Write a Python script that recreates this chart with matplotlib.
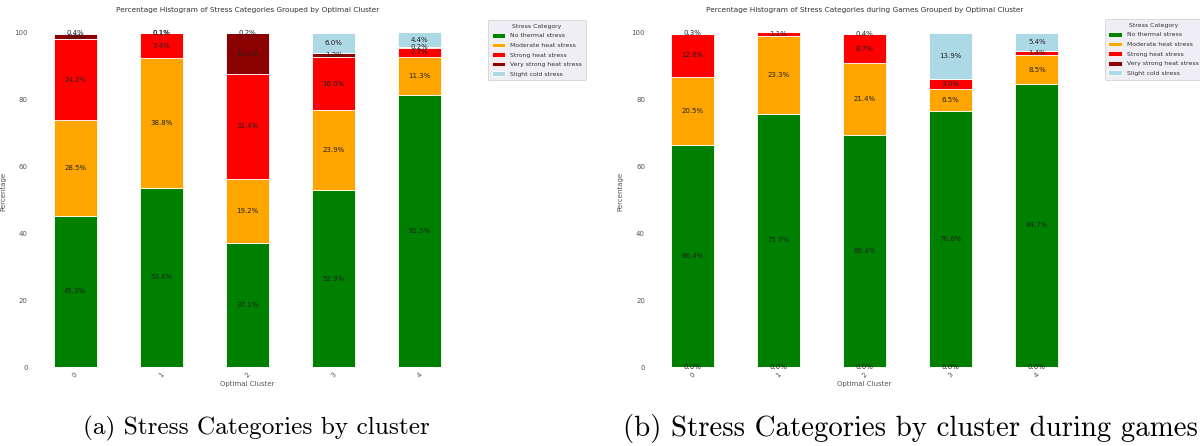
import matplotlib
matplotlib.use("Agg")
import matplotlib.pyplot as plt
import numpy as np

CLUSTERS = ["0", "1", "2", "3", "4"]
CATEGORIES = [
    "No thermal stress",
    "Moderate heat stress",
    "Strong heat stress",
    "Very strong heat stress",
    "Slight cold stress",
]
COLORS = ["#008000", "#FFA500", "#FF0000", "#8B0000", "#ADD8E6"]

# share of each stress category per cluster, all observations
all_no_thermal = [45.3, 53.6, 37.1, 52.9, 81.5]
all_moderate = [28.5, 38.8, 19.2, 23.9, 11.3]
all_strong = [24.2, 7.4, 31.4, 16.0, 2.7]
all_very_strong = [1.6, 0.1, 12.1, 1.2, 0.2]
all_slight_cold = [0.4, 0.1, 0.2, 6.0, 4.4]

# same shares restricted to game days; leading row is an empty class
games_empty = [0.01, 0.01, 0.01, 0.01, 0.01]
games_no_thermal = [66.4, 75.7, 69.4, 76.6, 84.7]
games_moderate = [20.5, 23.3, 21.4, 6.5, 8.5]
games_strong = [12.8, 1.1, 8.7, 3.0, 1.4]
games_very_strong = [0.0, 0.0, 0.0, 0.0, 0.0]
games_slight_cold = [0.3, 0.0, 0.4, 13.9, 5.4]

TICK_GREY = "#555555"


def stacked_panel(ax, series, colors, labels, title):
    x = np.arange(len(CLUSTERS))
    bottom = np.zeros(len(CLUSTERS))
    for values, color, label in zip(series, colors, labels):
        values = np.asarray(values, dtype=float)
        ax.bar(x, values, 0.5, bottom=bottom, color=color, label=label,
               edgecolor="white", linewidth=0.6)
        for xi, b, v in zip(x, bottom, values):
            if v > 0:
                ax.text(xi, b + v / 2, f"{v:.1f}%", ha="center", va="center",
                        fontsize=5.0, color="#222222")
        bottom += values
    ax.set_xlim(-0.5, len(CLUSTERS) - 0.5)
    ax.set_ylim(0, 105)
    ax.set_yticks([0, 20, 40, 60, 80, 100])
    ax.set_xticks(x)
    ax.set_xticklabels(CLUSTERS, rotation=45)
    ax.tick_params(length=0, labelsize=5, colors=TICK_GREY, pad=3)
    for side in ax.spines.values():
        side.set_visible(False)
    ax.set_xlabel("Optimal Cluster", fontsize=5.0, color=TICK_GREY, labelpad=2)
    ax.set_ylabel("Percentage", fontsize=5.0, color=TICK_GREY, labelpad=6)
    ax.set_title(title, fontsize=5.3, color="#333333", pad=3)


fig = plt.figure(figsize=(12, 4.46), dpi=100)
fig.patch.set_facecolor("white")

ax_a = fig.add_axes([0.0267, 0.177, 0.359, 0.787])
stacked_panel(
    ax_a,
    [all_no_thermal, all_moderate, all_strong, all_very_strong, all_slight_cold],
    COLORS, CATEGORIES,
    "Percentage Histogram of Stress Categories Grouped by Optimal Cluster",
)

ax_b = fig.add_axes([0.541, 0.177, 0.359, 0.787])
stacked_panel(
    ax_b,
    [games_empty, games_no_thermal, games_moderate, games_strong,
     games_very_strong, games_slight_cold],
    ["#008000"] + COLORS, ["_empty"] + CATEGORIES,
    "Percentage Histogram of Stress Categories during Games Grouped by Optimal Cluster",
)

for ax, anchor in ((ax_a, (0.4067, 0.955)), (ax_b, (0.9205, 0.957))):
    leg = ax.legend(title="Stress Category", loc="upper left",
                    bbox_to_anchor=anchor, bbox_transform=fig.transFigure,
                    fontsize=4.4, title_fontsize=4.4, frameon=True,
                    facecolor="#EAEAF2", edgecolor="#CCCCCC",
                    handlelength=2.2, handleheight=0.8, borderpad=0.6,
                    labelspacing=0.68, handletextpad=0.8, borderaxespad=0)
    leg.get_frame().set_linewidth(0.6)
    for t in leg.get_texts():
        t.set_color("#333333")
    leg.get_title().set_color("#333333")

fig.text(0.214, 0.04, "(a) Stress Categories by cluster", ha="center",
         va="center", fontsize=18.2, family="cmr10")
fig.text(0.7585, 0.04, "(b) Stress Categories by cluster during games",
         ha="center", va="center", fontsize=20.8, family="cmr10")

fig.savefig("out.png", dpi=100, facecolor="white")
